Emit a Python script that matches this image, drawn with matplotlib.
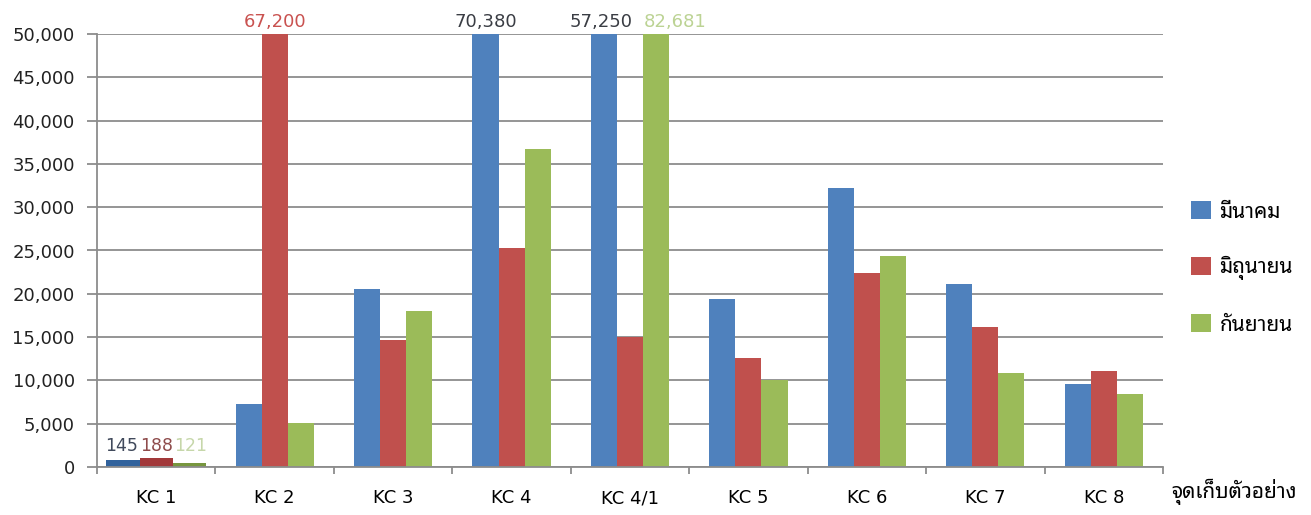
import matplotlib
matplotlib.use('Agg')
import matplotlib.pyplot as plt
import numpy as np

plt.rcParams['font.family'] = ['DejaVu Sans', 'Noto Sans Thai Looped']

sites = ['KC 1', 'KC 2', 'KC 3', 'KC 4', 'KC 4/1', 'KC 5', 'KC 6', 'KC 7', 'KC 8']
months = ['มีนาคม', 'มิถุนายน', 'กันยายน']
march = [760, 7300, 20550, 70380, 57250, 19400, 32250, 21100, 9550]
june = [1050, 67200, 14700, 25250, 15000, 12600, 22450, 16200, 11100]
september = [920, 5100, 18050, 36700, 82681, 10000, 24350, 10900, 8400]
# KC 1 bars in the picture sit a little off the baseline (green dips below 0)
kc1_bottom = [0, 0, -450]
# labelled values: (site index, series index, text, x shift in points)
labels = [(0, 0, '145', -1), (0, 1, '188', 0), (0, 2, '121', 1),
          (1, 1, '67,200', 0), (3, 0, '70,380', 0), (4, 0, '57,250', -2),
          (4, 2, '82,681', 14)]

colors = ['#4f81bd', '#c0504d', '#9bbb59']
kc1_colors = ['#31629c', '#a2393a', '#77963e']
label_colors = ['#3a3d44', '#c95250', '#bcd394']
kc1_label_colors = ['#414a5c', '#8e4b4b', '#c6d7aa']

fig = plt.figure(figsize=(13.11, 5.15), dpi=100)
ax = fig.add_axes([97 / 1311, 48 / 515, 1066 / 1311, 433 / 515])

x = np.arange(len(sites))
w = 0.22
series = [march, june, september]
for i, vals in enumerate(series):
    ax.bar(x[1:] + (i - 1) * w, vals[1:], width=w, color=colors[i],
           label=months[i], zorder=3)
    ax.bar(x[0] + (i - 1) * 0.28, vals[0], width=0.28, bottom=kc1_bottom[i],
           color=kc1_colors[i], zorder=3)

for site, s, txt, dx in labels:
    if site == 0:
        xpos = x[0] + (s - 1) * 0.28
        ypos = max(series[s][0] + kc1_bottom[s], series[1][0])
        col = kc1_label_colors[s]
        size = 12.5
    else:
        xpos = x[site] + (s - 1) * w
        ypos = min(series[s][site], 50000)
        col = label_colors[s]
        size = 13
    ax.annotate(txt, (xpos, ypos), xytext=(dx, 2), textcoords='offset points',
                ha='center', va='bottom', color=col, fontsize=size,
                annotation_clip=False)

ax.set_xlim(-0.5, len(sites) - 0.5)
ax.set_ylim(0, 50000)
ax.set_yticks(np.arange(0, 50001, 5000))
ax.set_yticklabels([f'{v:,}' for v in range(0, 50001, 5000)])
ax.set_xticks(x)
ax.set_xticklabels(sites)
ax.set_xticks(np.arange(-0.5, len(sites), 1), minor=True)
ax.tick_params(axis='x', which='major', length=0, pad=16, labelsize=13)
ax.tick_params(axis='x', which='minor', length=5, width=1.3, color='#8c8c8c',
               direction='out')
ax.tick_params(axis='y', length=7, width=1.3, color='#8c8c8c', pad=9,
               labelsize=13, labelcolor='#222222')
ax.yaxis.grid(True, color='#8c8c8c', linewidth=1.3, zorder=0)
ax.set_axisbelow(True)
for side in ['top', 'right']:
    ax.spines[side].set_visible(False)
for side in ['left', 'bottom']:
    ax.spines[side].set_color('#8c8c8c')
    ax.spines[side].set_linewidth(1.3)
    ax.spines[side].set_zorder(4)

fig.legend(loc='center left', bbox_to_anchor=(1181 / 1311, 247 / 515),
           frameon=False, fontsize=15, handlelength=0.95, handleheight=0.95,
           handletextpad=0.4, labelspacing=1.65, borderpad=0)
fig.text(1171 / 1311, 23 / 515, 'จุดเก็บตัวอย่าง', ha='left', va='center',
         fontsize=15)

fig.savefig('out.png', dpi=100)
